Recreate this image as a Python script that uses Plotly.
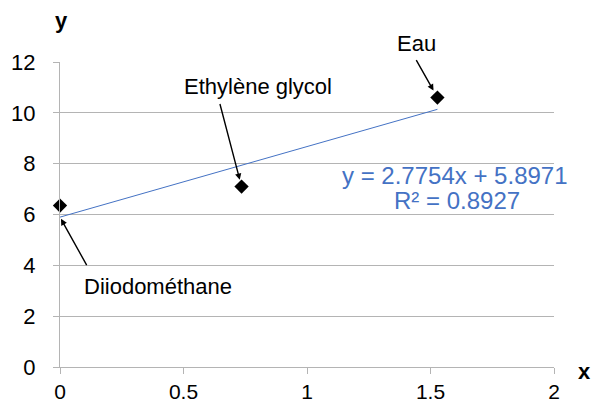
import plotly.graph_objects as go

# Measured points (x, y) for the three liquids
liquids = ["Diiodométhane", "Ethylène glycol", "Eau"]
x_vals = [0.0, 0.735, 1.528]
y_vals = [6.35, 7.1, 10.6]

# Linear fit coefficients shown on the chart
slope = 2.7754
intercept = 5.8971
r_squared = 0.8927

x_ticks = [0, 0.5, 1, 1.5, 2]
y_ticks = [0, 2, 4, 6, 8, 10, 12]

FONT = "Liberation Sans, Arial, sans-serif"
GRID = "#B4B4B4"
BLUE = "#4472C4"

W, H = 593, 405
ML, MR, MT, MB = 59.5, 39, 62, 38
pw, ph = W - ML - MR, H - MT - MB


def px_to_paper(px, py):
    return (px - ML) / pw, (H - MB - py) / ph


def text_note(px, py, text, size, color):
    x, y = px_to_paper(px, py)
    return dict(x=x, y=y, xref="paper", yref="paper", text=text,
                xanchor="center", yanchor="middle", showarrow=False,
                font=dict(family=FONT, size=size, color=color))


fit_x = [0.0, max(x_vals)]
fit_y = [slope * v + intercept for v in fit_x]

fig = go.Figure()
fig.add_trace(go.Scatter(
    x=fit_x, y=fit_y, mode="lines",
    line=dict(color=BLUE, width=1), hoverinfo="skip", showlegend=False,
))
fig.add_trace(go.Scatter(
    x=x_vals, y=y_vals, mode="markers", text=liquids,
    marker=dict(symbol="diamond", size=11, color="black"),
    showlegend=False, cliponaxis=False,
))

annotations = []
# Point labels, placed in pixel positions on the page
label_px = {
    "Eau": (416, 43),
    "Ethylène glycol": (258, 86),
    "Diiodométhane": (157.5, 286),
}
for name in liquids:
    annotations.append(text_note(*label_px[name], name, 22, "black"))

arrow_specs = [
    # (target x, target y, tail dx, tail dy, standoff)
    (x_vals[2], y_vals[2], -22, -39, 8),
    (x_vals[1], y_vals[1], -22, -84, 7),
    (0.0, intercept, 27.5, 49.5, 2),
]
for tx, ty, dx, dy, so in arrow_specs:
    annotations.append(dict(x=tx, y=ty, xref="x", yref="y", text="",
                            showarrow=True, ax=dx, ay=dy,
                            axref="pixel", ayref="pixel",
                            arrowhead=2, arrowsize=0.9, arrowwidth=1.4,
                            arrowcolor="black", standoff=so))

# Fit equation
annotations.append(text_note(455, 175, f"y = {slope}x + {intercept}", 24, BLUE))
annotations.append(text_note(457, 200, f"R² = {r_squared}", 24, BLUE))

# Axis names
annotations.append(text_note(61, 21, "<b>y</b>", 22, "black"))
annotations.append(text_note(585, 371, "<b>x</b>", 22, "black"))

fig.update_layout(
    width=W, height=H,
    margin=dict(l=ML, r=MR, t=MT, b=MB, pad=0, autoexpand=False),
    paper_bgcolor="white", plot_bgcolor="white",
    font=dict(family=FONT, size=22, color="black"),
    annotations=annotations,
    xaxis=dict(range=[0, 2], tickvals=x_ticks, ticktext=[str(v) for v in x_ticks],
               showgrid=False, zeroline=False, automargin=False,
               showline=True, linecolor=GRID, linewidth=1,
               ticks="outside", ticklen=6, tickcolor=GRID, tickwidth=1,
               ticklabelstandoff=0,
               tickfont=dict(family=FONT, size=21, color="black")),
    yaxis=dict(range=[0, 12], tickvals=y_ticks,
               showgrid=True, gridcolor=GRID, gridwidth=1, zeroline=False,
               automargin=False,
               showline=True, linecolor=GRID, linewidth=1,
               ticks="outside", ticklen=6, tickcolor=GRID, tickwidth=1,
               ticklabelstandoff=13,
               tickfont=dict(family=FONT, size=22, color="black")),
)

fig.write_html("out.html")
